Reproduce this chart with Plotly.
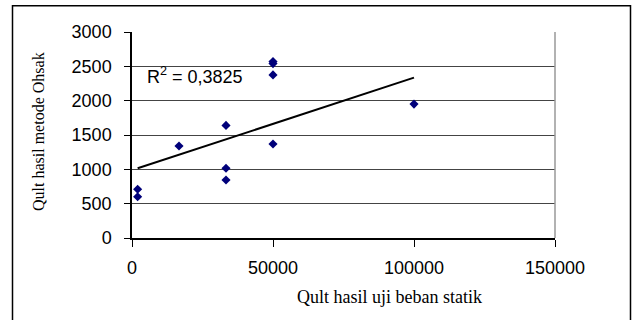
import plotly.graph_objects as go

# Data
qult_static = [2000, 2000, 16667, 33333, 33333, 33333, 50000, 50000, 50000, 50000, 100000]
qult_ohsaki = [710, 600, 1340, 1640, 1015, 845, 1370, 2570, 2540, 2375, 1950]
trend_x = [2000, 100000]
trend_y = [1015, 2335]
r2_text = "R<sup>2</sup> = 0,3825"
x_ticks = [0, 50000, 100000, 150000]
y_ticks = [0, 500, 1000, 1500, 2000, 2500, 3000]

W, H = 634, 320
L, R, T, B = 132, 79, 32, 82
pw, ph = W - L - R, H - T - B

def px(x):
    return (x - L) / pw

def py(y):
    return (H - B - y) / ph

fig = go.Figure()
fig.add_trace(go.Scatter(x=trend_x, y=trend_y, mode="lines",
                         line=dict(color="black", width=2), showlegend=False))
fig.add_trace(go.Scatter(x=qult_static, y=qult_ohsaki, mode="markers",
                         marker=dict(symbol="diamond", color="#00007a", size=7),
                         showlegend=False))

fig.update_layout(
    width=W, height=H,
    margin=dict(l=L, r=R, t=T, b=B),
    paper_bgcolor="white", plot_bgcolor="white",
    xaxis=dict(range=[0, 150000], tickvals=x_ticks, ticktext=[str(v) for v in x_ticks],
               showgrid=False, zeroline=False, showline=True, linecolor="black", linewidth=1.5,
               ticks="outside", ticklen=7, tickcolor="black", ticklabelstandoff=6,
               tickfont=dict(family="Liberation Sans", size=18, color="black")),
    yaxis=dict(range=[0, 3000], tickvals=y_ticks, ticktext=[str(v) for v in y_ticks],
               showgrid=True, gridcolor="#444444", gridwidth=1.3, zeroline=False,
               showline=True, linecolor="black", linewidth=1.5,
               ticks="outside", ticklen=6, tickcolor="black", ticklabelstandoff=9,
               tickfont=dict(family="Liberation Sans", size=18, color="black")),
    shapes=[
        dict(type="line", xref="paper", yref="paper", x0=1, x1=1, y0=0, y1=1,
             line=dict(color="#999999", width=1.5)),
        dict(type="rect", xref="paper", yref="paper",
             x0=px(12.5), x1=px(630.5), y0=py(330), y1=py(5.7),
             line=dict(color="black", width=1.5)),
    ],
    annotations=[
        dict(text=r2_text, xref="paper", yref="paper", x=px(145), y=py(75),
             xanchor="left", yanchor="middle", showarrow=False,
             font=dict(family="Liberation Sans", size=18, color="black")),
        dict(text="Qult hasil metode Ohsak", xref="paper", yref="paper",
             x=px(38), y=py(132), textangle=-90, xanchor="center", yanchor="middle",
             showarrow=False, font=dict(family="Liberation Serif", size=16, color="black")),
        dict(text="Qult hasil uji beban statik", xref="paper", yref="paper",
             x=px(389), y=py(297), xanchor="center", yanchor="middle",
             showarrow=False, font=dict(family="Liberation Serif", size=18, color="black")),
    ],
)

fig.write_html("out.html")
